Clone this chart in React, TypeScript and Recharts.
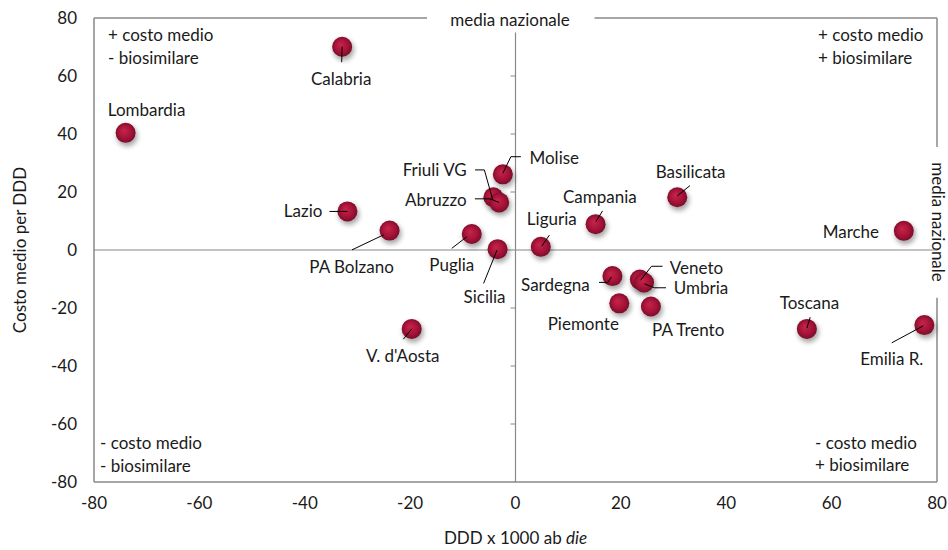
import { ScatterChart, Scatter, XAxis, YAxis, ReferenceLine } from 'recharts';

const regions = [
  'Lombardia', 'Calabria', 'Lazio', 'PA Bolzano', "V. d'Aosta", 'Puglia', 'Friuli VG',
  'Abruzzo', 'Sicilia', 'Molise', 'Liguria', 'Campania', 'Sardegna', 'Piemonte',
  'Veneto', 'Umbria', 'PA Trento', 'Basilicata', 'Toscana', 'Marche', 'Emilia R.',
];
// DDD x 1000 ab die (scarto dalla media nazionale)
const dddValues = [
  -74.0, -32.9, -31.9, -23.9, -19.7, -8.3, -4.2,
  -3.1, -3.4, -2.4, 4.8, 15.2, 18.4, 19.7,
  23.6, 24.4, 25.7, 30.7, 55.3, 73.7, 77.6,
];
// costo medio per DDD (scarto dalla media nazionale)
const costValues = [
  40.4, 70.1, 13.3, 6.7, -27.2, 5.5, 18.2,
  16.4, 0.3, 26.1, 1.1, 8.9, -9.0, -18.4,
  -10.2, -11.2, -19.5, 18.2, -27.2, 6.6, -25.9,
];
const axisTicks = [-80, -60, -40, -20, 0, 20, 40, 60, 80];

const points = regions.map((name, i) => ({ name, x: dddValues[i], y: costValues[i] }));

const FONT = 'Lato, "Noto Sans", sans-serif';
const FS = 17;
const TEXT = '#1a1a1a';
const GRID = '#888888';

// label placement relative to the dot centre (pixels), with optional leader line
type Pt = [number, number];
const labelLayout: Record<string, { dx: number; dy: number; anchor: 'start' | 'middle' | 'end'; leader?: Pt[] }> = {
  Lombardia: { dx: 21, dy: -23, anchor: 'middle' },
  Calabria: { dx: -1, dy: 32, anchor: 'middle', leader: [[0, 0], [-0.5, 15.5]] },
  Lazio: { dx: -25, dy: 0, anchor: 'end', leader: [[-18, 0], [0, 0]] },
  'PA Bolzano': { dx: -38, dy: 36, anchor: 'middle', leader: [[-37.6, 19.3], [-6, 4.3]] },
  "V. d'Aosta": { dx: -9, dy: 27, anchor: 'middle', leader: [[-8.4, 10.3], [0, 0]] },
  Puglia: { dx: -20, dy: 31, anchor: 'middle', leader: [[-20, 14.3], [-5, 2.7]] },
  'Friuli VG': { dx: -26.6, dy: -27.3, anchor: 'end', leader: [[-18.3, -27.3], [-9, -27.3], [-0.6, 2.7]] },
  Abruzzo: { dx: -32.6, dy: -2.3, anchor: 'end', leader: [[-24.3, -3.6], [-9.3, -3.6], [0, 0]] },
  Sicilia: { dx: -13, dy: 48, anchor: 'middle', leader: [[-14, 34.3], [-0.6, 1]] },
  Molise: { dx: 26.6, dy: -16, anchor: 'start', leader: [[0, -1], [8, -17.6], [18, -17.6]] },
  Liguria: { dx: 11, dy: -27.4, anchor: 'middle', leader: [[8.6, -11.7], [1, -0.7]] },
  Campania: { dx: 4.3, dy: -27.3, anchor: 'middle', leader: [[7, -13.3], [0.3, -2.6]] },
  Sardegna: { dx: -22.7, dy: 9, anchor: 'end', leader: [[-13.4, 6.3], [-4.4, 6.3], [-1, 0.7]] },
  Piemonte: { dx: -36, dy: 21, anchor: 'middle' },
  Veneto: { dx: 30, dy: -11.7, anchor: 'start', leader: [[22.7, -13.3], [11.7, -13.3], [0.7, 0.7]] },
  Umbria: { dx: 29.7, dy: 5.3, anchor: 'start', leader: [[22, 5.3], [10.3, 5.3], [0.3, 1.3]] },
  'PA Trento': { dx: 37.3, dy: 23.3, anchor: 'middle' },
  Basilicata: { dx: 13.4, dy: -25, anchor: 'middle', leader: [[12.7, -11.6], [0, -1.3]] },
  Toscana: { dx: 2.6, dy: -25.7, anchor: 'middle', leader: [[3.3, -11.7], [0, -0.7]] },
  Marche: { dx: -24.7, dy: 1.3, anchor: 'end' },
  'Emilia R.': { dx: -32.6, dy: 34.3, anchor: 'middle', leader: [[-32.6, 17.7], [-1, 0.7]] },
};

function Dot(props: any) {
  const { cx, cy } = props;
  if (cx == null || cy == null) return null;
  return (
    <g>
      <defs>
        <filter id="dotBlur" x="-60%" y="-60%" width="220%" height="220%">
          <feGaussianBlur stdDeviation="2.8" />
        </filter>
        <radialGradient id="dotFill" cx="50%" cy="50%" r="55%" fx="40%" fy="38%">
          <stop offset="0%" stopColor="#c8244a" />
          <stop offset="55%" stopColor="#a8143a" />
          <stop offset="100%" stopColor="#760a25" />
        </radialGradient>
      </defs>
      <circle cx={cx + 1.5} cy={cy + 3} r={10.5} fill="#000" opacity={0.35} filter="url(#dotBlur)" />
      <circle cx={cx} cy={cy} r={10} fill="url(#dotFill)" />
    </g>
  );
}

function PointLabel(props: any) {
  const { cx, cy, payload } = props;
  if (cx == null || cy == null) return null;
  const lay = labelLayout[payload.name];
  if (!lay) return null;
  return (
    <g>
      {lay.leader && (
        <polyline
          points={lay.leader.map(([dx, dy]) => `${cx + dx},${cy + dy}`).join(' ')}
          fill="none"
          stroke="#000"
          strokeWidth={1}
        />
      )}
      <text
        x={cx + lay.dx}
        y={cy + lay.dy}
        dy="0.35em"
        textAnchor={lay.anchor}
        fontFamily={FONT}
        fontSize={FS}
        fill={TEXT}
      >
        {payload.name}
      </text>
    </g>
  );
}

const noteStyle = { fontFamily: FONT, fontSize: FS, fill: TEXT };

export default function App() {
  return (
    <div>
      <style>{`body{margin:0}`}</style>
      <ScatterChart width={948} height={550} margin={{ top: 18, right: 11, bottom: 0, left: 0 }}>
        <XAxis
          type="number"
          dataKey="x"
          domain={[-80, 80]}
          ticks={axisTicks}
          height={68}
          tickLine={false}
          tickSize={0}
          tickMargin={15}
          axisLine={{ stroke: GRID, strokeWidth: 1.5 }}
          tick={{ fill: TEXT, fontSize: FS, fontFamily: FONT }}
          label={({ viewBox }: any) => (
            <text
              x={viewBox.x + viewBox.width / 2}
              y={viewBox.y + 62}
              textAnchor="middle"
              fontFamily={FONT}
              fontSize={FS}
              fill={TEXT}
            >
              DDD x 1000 ab <tspan fontStyle="italic">die</tspan>
            </text>
          )}
        />
        <YAxis
          type="number"
          dataKey="y"
          domain={[-80, 80]}
          ticks={axisTicks}
          width={94}
          tickLine={false}
          tickSize={0}
          tickMargin={17}
          axisLine={{ stroke: GRID, strokeWidth: 1.5 }}
          tick={{ fill: TEXT, fontSize: FS, fontFamily: FONT }}
          label={({ viewBox }: any) => (
            <text
              x={20}
              y={viewBox.y + viewBox.height / 2}
              dy="0.35em"
              textAnchor="middle"
              transform={`rotate(-90, 20, ${viewBox.y + viewBox.height / 2})`}
              fontFamily={FONT}
              fontSize={FS}
              fill={TEXT}
            >
              Costo medio per DDD
            </text>
          )}
        />

        {/* plot frame: top and right with gaps for the "media nazionale" labels */}
        <ReferenceLine segment={[{ x: -80, y: 80 }, { x: -16.8, y: 80 }]} stroke={GRID} strokeWidth={1.5} />
        <ReferenceLine segment={[{ x: 15, y: 80 }, { x: 80, y: 80 }]} stroke={GRID} strokeWidth={1.5} />
        <ReferenceLine segment={[{ x: 80, y: 80 }, { x: 80, y: 35.5 }]} stroke={GRID} strokeWidth={1.5} />
        <ReferenceLine segment={[{ x: 80, y: -16.5 }, { x: 80, y: -80 }]} stroke={GRID} strokeWidth={1.5} />

        {/* national average cross */}
        <ReferenceLine segment={[{ x: 0, y: -80 }, { x: 0, y: 75 }]} stroke={GRID} strokeWidth={1.2} />
        <ReferenceLine segment={[{ x: -80, y: 0 }, { x: 80, y: 0 }]} stroke={GRID} strokeWidth={1.2} />
        {axisTicks
          .filter((t) => t > -80 && t < 80 && t !== 0)
          .map((t) => (
            <ReferenceLine key={t} segment={[{ x: -0.95, y: t }, { x: 0, y: t }]} stroke={GRID} strokeWidth={1} />
          ))}

        <Scatter data={points} shape={<Dot />} isAnimationActive={false} />
        <Scatter data={points} shape={<PointLabel />} isAnimationActive={false} />

        <text x={510} y={20} dy="0.35em" textAnchor="middle" {...noteStyle}>media nazionale</text>
        <text x={938} y={222} dy="0.35em" textAnchor="middle" transform="rotate(90, 938, 222)" {...noteStyle}>
          media nazionale
        </text>

        <text x={108} y={35} dy="0.35em" {...noteStyle}>+ costo medio</text>
        <text x={108} y={58} dy="0.35em" {...noteStyle}>- biosimilare</text>
        <text x={818} y={35} dy="0.35em" {...noteStyle}>+ costo medio</text>
        <text x={818} y={58} dy="0.35em" {...noteStyle}>+ biosimilare</text>
        <text x={100} y={443} dy="0.35em" {...noteStyle}>- costo medio</text>
        <text x={100} y={466} dy="0.35em" {...noteStyle}>- biosimilare</text>
        <text x={815} y={443} dy="0.35em" {...noteStyle}>- costo medio</text>
        <text x={815} y={465} dy="0.35em" {...noteStyle}>+ biosimilare</text>
      </ScatterChart>
    </div>
  );
}
